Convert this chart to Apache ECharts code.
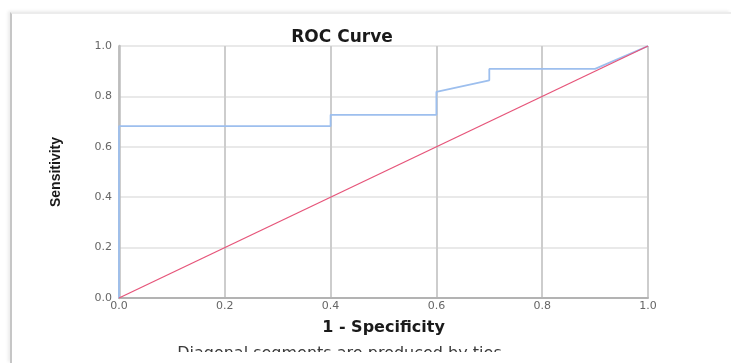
<!DOCTYPE html>
<html>
<head>
<meta charset="utf-8">
<script src="https://cdn.jsdelivr.net/npm/echarts@6/dist/echarts.min.js"></script>
<style>
  html, body { margin: 0; padding: 0; background: #ffffff; width: 731px; height: 363px; overflow: hidden; }
  #frame { position: absolute; left: 10px; top: 12px; width: 721px; height: 351px;
           border-left: 2px solid #c6c6c6; border-top: 2px solid #ececec;
           box-shadow: -2px -1px 3px rgba(0,0,0,0.08); box-sizing: border-box; }
  #chart { position: absolute; left: 0; top: 0; width: 731px; height: 352px; }
</style>
</head>
<body>
<div id="frame"></div>
<div id="chart"></div>
<script>
// ROC curve points (1 - Specificity, Sensitivity)
const rocX = [0, 0, 0.4, 0.4, 0.6, 0.6, 0.7, 0.7, 0.9, 1.0];
const rocY = [0, 0.682, 0.682, 0.727, 0.727, 0.818, 0.864, 0.909, 0.909, 1.0];
// Reference diagonal
const refX = [0, 1];
const refY = [0, 1];
// Axis ticks
const tickValues = [0, 0.2, 0.4, 0.6, 0.8, 1.0];
const titleText = 'ROC Curve';
const xTitle = '1 - Specificity';
const yTitle = 'Sensitivity';
const noteText = 'Diagonal segments are produced by ties.';

const chart = echarts.init(document.getElementById('chart'), null, { renderer: 'canvas' });

const rocData = rocX.map((x, i) => [x, rocY[i]]);
const refData = refX.map((x, i) => [x, refY[i]]);

const option = {
  backgroundColor: 'transparent',
  animation: false,
  grid: { left: 119, right: 83, top: 46, bottom: 54, containLabel: false },
  xAxis: {
    type: 'value', min: 0, max: 1, interval: 0.2,
    name: xTitle, nameLocation: 'middle', nameGap: 22,
    nameTextStyle: { fontFamily: 'DejaVu Sans', fontWeight: 'bold', fontSize: 16, color: '#1a1a1a' },
    axisLine: { show: true, lineStyle: { color: '#b3b3b3', width: 2 } },
    axisTick: { show: false },
    axisLabel: { margin: 3, fontFamily: 'DejaVu Sans', fontSize: 11, color: '#666666',
                 formatter: v => v.toFixed(1) },
    splitLine: { show: true, lineStyle: { color: '#cdcdcd', width: 2 } }
  },
  yAxis: {
    type: 'value', min: 0, max: 1, interval: 0.2,
    name: yTitle, nameLocation: 'middle', nameGap: 56, nameRotate: 90,
    nameTextStyle: { fontFamily: 'Liberation Sans', fontWeight: 'bold', fontSize: 14, color: '#1a1a1a' },
    axisLine: { show: true, lineStyle: { color: '#bdbdbd', width: 2.5 } },
    axisTick: { show: false },
    axisLabel: { margin: 7, fontFamily: 'DejaVu Sans', fontSize: 11, color: '#666666',
                 formatter: v => v.toFixed(1) },
    splitLine: { show: true, lineStyle: { color: '#e2e2e2', width: 1.5 } }
  },
  graphic: [
    { type: 'text', x: 342, y: 38, z: 10,
      style: { text: titleText, align: 'center', verticalAlign: 'middle',
               font: 'bold 17px "DejaVu Sans"', fill: '#1a1a1a' } },
    { type: 'text', x: 342, y: 346, z: 10,
      style: { text: noteText, align: 'center', verticalAlign: 'top',
               font: '16px "DejaVu Sans"', fill: '#3a3a3a' } }
  ],
  series: [
    {
      type: 'line', name: 'Reference', data: refData, showSymbol: false, z: 3,
      lineStyle: { color: '#e6557a', width: 1.3 }
    },
    {
      type: 'line', name: 'ROC', data: rocData, showSymbol: false, z: 2,
      lineStyle: { color: '#9dbfee', width: 1.8 }
    }
  ]
};
chart.setOption(option);
</script>
</body>
</html>
